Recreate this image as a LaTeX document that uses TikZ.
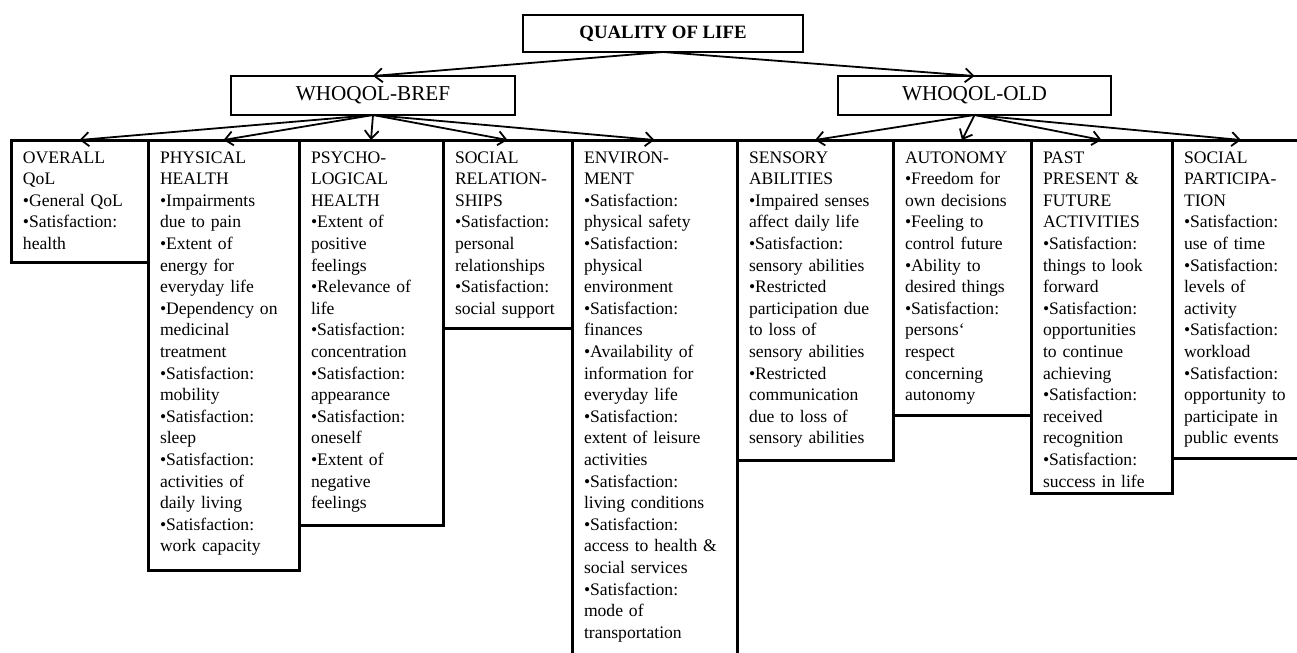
\documentclass[tikz,border=0pt]{standalone}
\usepackage{fontspec}
\setmainfont{Liberation Serif}
\usetikzlibrary{arrows.meta,positioning}
\newcommand{\domfont}{\fontsize{8.8}{10.8}\selectfont}
\newcommand{\itm}{\par\hangindent=2pt\hangafter=1\textbullet}

\begin{document}
\begin{tikzpicture}[
  x=0.5pt, y=-0.5pt,
  block/.style={rectangle, draw, line width=1.4pt, inner sep=0pt, outer sep=0pt, minimum height=19.5pt,
    font=\fontsize{10.6}{12}\selectfont},
  domain/.style 2 args={rectangle, draw, line width=1.5pt, anchor=north west, outer sep=0pt, inner xsep=6pt,
    inner ysep=4.5pt, text width=#1, text height=7pt, text depth=#2, align=left, font=\domfont},
  arrow/.style={-{Straight Barb[length=4pt,width=7pt]}, line width=0.9pt}
]
\useasboundingbox (0,0) rectangle (1297,653);
\node (qol) [block, minimum width=140pt, minimum height=18.5pt, font=\fontsize{9.4}{11}\selectfont\bfseries] at (663,33.5) {QUALITY OF LIFE};
\node (bref) [block, minimum width=142pt] at (373,95.5) {WHOQOL-BREF};
\node (old) [block, minimum width=136.5pt] at (974.5,95.5) {WHOQOL-OLD};

\node (overall) [domain={56.5pt}{45pt}] at (11,140) {OVERALL\\QoL\itm General QoL\itm Satisfaction:\\health};
\node (physical) [domain={63.5pt}{199pt}] at (overall.north east) {PHYSICAL\\HEALTH\itm Impairments\\due to pain\itm Extent of\\energy for\\everyday life\itm Dependency on\\medicinal\\treatment\itm Satisfaction:\\mobility\itm Satisfaction:\\sleep\itm Satisfaction:\\activities of\\daily living\itm Satisfaction:\\work capacity};
\node (psycho) [domain={60pt}{176.5pt}] at (physical.north east) {PSYCHO-\\LOGICAL\\HEALTH\itm Extent of\\positive\\feelings\itm Relevance of\\life\itm Satisfaction:\\concentration\itm Satisfaction:\\appearance\itm Satisfaction:\\oneself\itm Extent of\\negative\\feelings};
\node (socrel) [domain={52.5pt}{78pt}] at (psycho.north east) {SOCIAL\\RELATION-\\SHIPS\itm Satisfaction:\\personal\\relationships\itm Satisfaction:\\social support};
\node (environ) [domain={70.5pt}{249pt}] at (socrel.north east) {ENVIRON-\\MENT\itm Satisfaction:\\physical safety\itm Satisfaction:\\physical\\environment\itm Satisfaction:\\finances\itm Availability of\\information for\\everyday life\itm Satisfaction:\\extent of leisure\\activities\itm Satisfaction:\\living conditions\itm Satisfaction:\\access to health \&\\social services\itm Satisfaction:\\mode of\\transportation};
\node (sensory) [domain={66pt}{144pt}] at (environ.north east) {SENSORY\\ABILITIES\itm Impaired senses\\affect daily life\itm Satisfaction:\\sensory abilities\itm Restricted\\participation due\\to loss of\\sensory abilities\itm Restricted\\communication\\due to loss of\\sensory abilities};
\node (autonomy) [domain={57pt}{121.5pt}] at (sensory.north east) {AUTONOMY\itm Freedom for\\own decisions\itm Feeling to\\control future\itm Ability to\\desired things\itm Satisfaction:\\persons‘\\respect\\concerning\\autonomy};
\node (past) [domain={58.5pt}{160.5pt}] at (autonomy.north east) {PAST\\PRESENT \&\\FUTURE\\ACTIVITIES\itm Satisfaction:\\things to look\\forward\itm Satisfaction:\\opportunities\\to continue\\achieving\itm Satisfaction:\\received\\recognition\itm Satisfaction:\\success in life};
\node (socpart) [domain={57pt}{143pt}] at (past.north east) {SOCIAL\\PARTICIPA-\\TION\itm Satisfaction:\\use of time\itm Satisfaction:\\levels of\\activity\itm Satisfaction:\\workload\itm Satisfaction:\\opportunity to\\participate in\\public events};

\draw[arrow] (qol.south) -- (bref.north);
\draw[arrow] (qol.south) -- (old.north);
\draw[arrow] (bref.south) -- (overall.north);
\draw[arrow] (bref.south) -- (physical.north);
\draw[arrow] (bref.south) -- (psycho.north);
\draw[arrow] (bref.south) -- (socrel.north);
\draw[arrow] (bref.south) -- (environ.north);
\draw[arrow] (old.south) -- (sensory.north);
\draw[arrow] (old.south) -- (autonomy.north);
\draw[arrow] (old.south) -- (past.north);
\draw[arrow] (old.south) -- (socpart.north);
\end{tikzpicture}
\end{document}
